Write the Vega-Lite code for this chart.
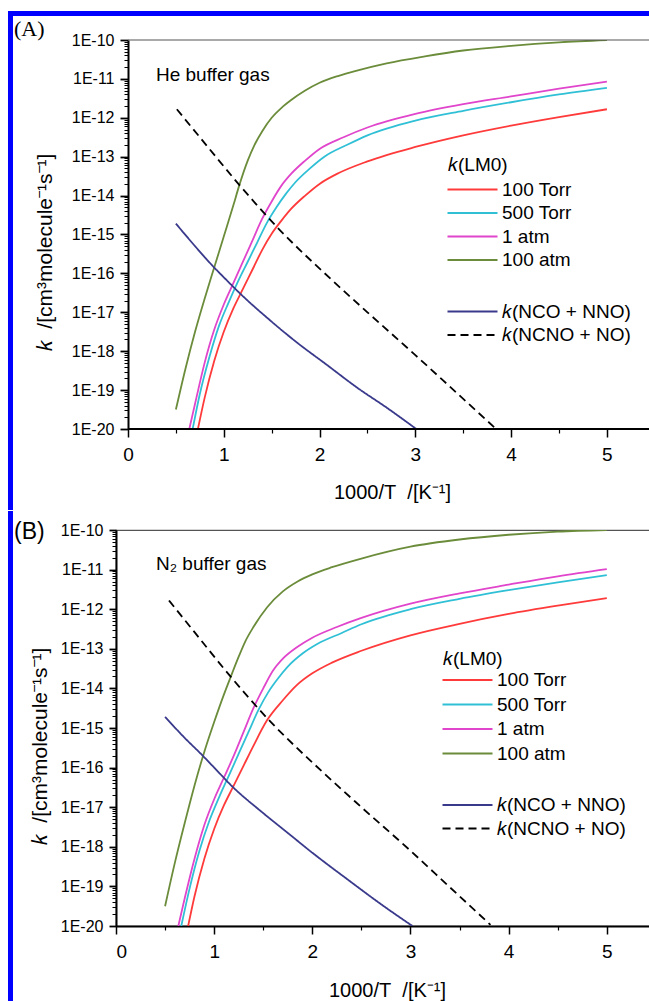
{
  "$schema": "https://vega.github.io/schema/vega-lite/v6.json",
  "padding": {"left": 7, "top": 10, "right": 0, "bottom": 0},
  "background": "white",
  "spacing": 0,
  "config": {
    "font": "Liberation Sans",
    "view": {"stroke": "#555555", "strokeWidth": 1.2},
    "axis": {"domainColor": "#000000", "tickColor": "#000000", "labelColor": "#000000", "titleColor": "#000000", "grid": false, "titleFontWeight": "normal", "labelFont": "Liberation Sans", "titleFont": "Liberation Sans"},
    "legend": {"labelColor": "#000000", "titleColor": "#000000", "labelFont": "Liberation Sans", "titleFont": "Liberation Sans"}
  },
  "datasets": {
    "A_lm0": [
      {"x":0.73,"k":1e-20,"s":"100 Torr"},{"x":0.8,"k":6.31e-20,"s":"100 Torr"},{"x":0.9,"k":5.623e-19,"s":"100 Torr"},{"x":1.0,"k":3.162e-18,"s":"100 Torr"},{"x":1.1,"k":1.259e-17,"s":"100 Torr"},{"x":1.2,"k":3.981e-17,"s":"100 Torr"},{"x":1.3,"k":1.259e-16,"s":"100 Torr"},{"x":1.4,"k":3.981e-16,"s":"100 Torr"},{"x":1.5,"k":1.047e-15,"s":"100 Torr"},{"x":1.6,"k":2.239e-15,"s":"100 Torr"},{"x":1.7,"k":4.467e-15,"s":"100 Torr"},{"x":1.85,"k":1e-14,"s":"100 Torr"},{"x":2.0,"k":1.995e-14,"s":"100 Torr"},{"x":2.2,"k":3.802e-14,"s":"100 Torr"},{"x":2.5,"k":7.586e-14,"s":"100 Torr"},{"x":3.0,"k":1.778e-13,"s":"100 Torr"},{"x":3.5,"k":3.548e-13,"s":"100 Torr"},{"x":4.0,"k":6.31e-13,"s":"100 Torr"},{"x":4.5,"k":1.047e-12,"s":"100 Torr"},{"x":5.0,"k":1.66e-12,"s":"100 Torr"},
      {"x":0.675,"k":1e-20,"s":"500 Torr"},{"x":0.75,"k":7.943e-20,"s":"500 Torr"},{"x":0.85,"k":7.079e-19,"s":"500 Torr"},{"x":0.95,"k":4.467e-18,"s":"500 Torr"},{"x":1.05,"k":1.778e-17,"s":"500 Torr"},{"x":1.15,"k":6.31e-17,"s":"500 Torr"},{"x":1.25,"k":1.995e-16,"s":"500 Torr"},{"x":1.35,"k":6.31e-16,"s":"500 Torr"},{"x":1.45,"k":1.995e-15,"s":"500 Torr"},{"x":1.55,"k":5.012e-15,"s":"500 Torr"},{"x":1.65,"k":1.122e-14,"s":"500 Torr"},{"x":1.75,"k":2.239e-14,"s":"500 Torr"},{"x":1.9,"k":5.012e-14,"s":"500 Torr"},{"x":2.05,"k":1e-13,"s":"500 Torr"},{"x":2.3,"k":2.089e-13,"s":"500 Torr"},{"x":2.5,"k":3.548e-13,"s":"500 Torr"},{"x":3.0,"k":8.511e-13,"s":"500 Torr"},{"x":3.5,"k":1.514e-12,"s":"500 Torr"},{"x":4.0,"k":2.512e-12,"s":"500 Torr"},{"x":4.5,"k":3.981e-12,"s":"500 Torr"},{"x":5.0,"k":5.888e-12,"s":"500 Torr"},
      {"x":0.64,"k":1e-20,"s":"1 atm"},{"x":0.7,"k":4.467e-20,"s":"1 atm"},{"x":0.8,"k":5.012e-19,"s":"1 atm"},{"x":0.9,"k":3.548e-18,"s":"1 atm"},{"x":1.0,"k":1.585e-17,"s":"1 atm"},{"x":1.1,"k":5.623e-17,"s":"1 atm"},{"x":1.2,"k":1.995e-16,"s":"1 atm"},{"x":1.3,"k":7.079e-16,"s":"1 atm"},{"x":1.4,"k":2.512e-15,"s":"1 atm"},{"x":1.5,"k":7.079e-15,"s":"1 atm"},{"x":1.6,"k":1.778e-14,"s":"1 atm"},{"x":1.7,"k":3.548e-14,"s":"1 atm"},{"x":1.85,"k":7.943e-14,"s":"1 atm"},{"x":2.0,"k":1.585e-13,"s":"1 atm"},{"x":2.25,"k":3.162e-13,"s":"1 atm"},{"x":2.5,"k":5.623e-13,"s":"1 atm"},{"x":3.0,"k":1.259e-12,"s":"1 atm"},{"x":3.5,"k":2.239e-12,"s":"1 atm"},{"x":4.0,"k":3.548e-12,"s":"1 atm"},{"x":4.5,"k":5.623e-12,"s":"1 atm"},{"x":5.0,"k":8.511e-12,"s":"1 atm"},
      {"x":0.5,"k":3.162e-20,"s":"100 atm"},{"x":0.6,"k":3.548e-19,"s":"100 atm"},{"x":0.7,"k":3.162e-18,"s":"100 atm"},{"x":0.8,"k":2.239e-17,"s":"100 atm"},{"x":0.9,"k":1.413e-16,"s":"100 atm"},{"x":1.0,"k":8.913e-16,"s":"100 atm"},{"x":1.1,"k":5.623e-15,"s":"100 atm"},{"x":1.16,"k":1.778e-14,"s":"100 atm"},{"x":1.25,"k":7.943e-14,"s":"100 atm"},{"x":1.32,"k":1.995e-13,"s":"100 atm"},{"x":1.4,"k":4.467e-13,"s":"100 atm"},{"x":1.5,"k":1e-12,"s":"100 atm"},{"x":1.6,"k":1.778e-12,"s":"100 atm"},{"x":1.7,"k":2.818e-12,"s":"100 atm"},{"x":1.85,"k":5.012e-12,"s":"100 atm"},{"x":2.0,"k":7.943e-12,"s":"100 atm"},{"x":2.2,"k":1.202e-11,"s":"100 atm"},{"x":2.4,"k":1.66e-11,"s":"100 atm"},{"x":2.7,"k":2.512e-11,"s":"100 atm"},{"x":3.1,"k":3.802e-11,"s":"100 atm"},{"x":3.5,"k":5.37e-11,"s":"100 atm"},{"x":4.0,"k":7.079e-11,"s":"100 atm"},{"x":4.5,"k":8.71e-11,"s":"100 atm"},{"x":5.0,"k":1e-10,"s":"100 atm"}
    ],
    "A_oth": [
      {"x":0.5,"k":1.905e-15,"r":"𝑘(NCO + NNO)"},{"x":0.7,"k":5.012e-16,"r":"𝑘(NCO + NNO)"},{"x":0.885,"k":1.549e-16,"r":"𝑘(NCO + NNO)"},{"x":1.0,"k":7.943e-17,"r":"𝑘(NCO + NNO)"},{"x":1.18,"k":2.884e-17,"r":"𝑘(NCO + NNO)"},{"x":1.49,"k":6.026e-18,"r":"𝑘(NCO + NNO)"},{"x":1.75,"k":1.778e-18,"r":"𝑘(NCO + NNO)"},{"x":2.07,"k":4.571e-19,"r":"𝑘(NCO + NNO)"},{"x":2.4,"k":1.122e-19,"r":"𝑘(NCO + NNO)"},{"x":2.7,"k":3.548e-20,"r":"𝑘(NCO + NNO)"},{"x":3.01,"k":1e-20,"r":"𝑘(NCO + NNO)"},
      {"x":0.51,"k":1.66e-12,"r":"𝑘(NCNO + NO)"},{"x":0.8,"k":2.239e-13,"r":"𝑘(NCNO + NO)"},{"x":1.157,"k":1.95e-14,"r":"𝑘(NCNO + NO)"},{"x":1.564,"k":1.479e-15,"r":"𝑘(NCNO + NO)"},{"x":2.12,"k":7.079e-17,"r":"𝑘(NCNO + NO)"},{"x":2.5,"k":1e-17,"r":"𝑘(NCNO + NO)"},{"x":3.0,"k":7.943e-19,"r":"𝑘(NCNO + NO)"},{"x":3.4,"k":1e-19,"r":"𝑘(NCNO + NO)"},{"x":3.83,"k":1.072e-20,"r":"𝑘(NCNO + NO)"}
    ],
    "B_lm0": [
      {"x":0.735,"k":1e-20,"s":"100 Torr"},{"x":0.8,"k":5.623e-20,"s":"100 Torr"},{"x":0.9,"k":5.012e-19,"s":"100 Torr"},{"x":1.0,"k":2.818e-18,"s":"100 Torr"},{"x":1.1,"k":1.122e-17,"s":"100 Torr"},{"x":1.19,"k":3.162e-17,"s":"100 Torr"},{"x":1.3,"k":1.122e-16,"s":"100 Torr"},{"x":1.4,"k":3.548e-16,"s":"100 Torr"},{"x":1.54,"k":1.585e-15,"s":"100 Torr"},{"x":1.7,"k":5.012e-15,"s":"100 Torr"},{"x":1.85,"k":1.259e-14,"s":"100 Torr"},{"x":2.0,"k":2.399e-14,"s":"100 Torr"},{"x":2.2,"k":4.467e-14,"s":"100 Torr"},{"x":2.5,"k":8.913e-14,"s":"100 Torr"},{"x":3.0,"k":2.188e-13,"s":"100 Torr"},{"x":3.5,"k":4.266e-13,"s":"100 Torr"},{"x":4.0,"k":7.586e-13,"s":"100 Torr"},{"x":4.5,"k":1.23e-12,"s":"100 Torr"},{"x":5.0,"k":1.905e-12,"s":"100 Torr"},
      {"x":0.665,"k":1e-20,"s":"500 Torr"},{"x":0.75,"k":8.913e-20,"s":"500 Torr"},{"x":0.85,"k":7.943e-19,"s":"500 Torr"},{"x":0.95,"k":4.467e-18,"s":"500 Torr"},{"x":1.05,"k":1.778e-17,"s":"500 Torr"},{"x":1.15,"k":6.31e-17,"s":"500 Torr"},{"x":1.25,"k":2.239e-16,"s":"500 Torr"},{"x":1.35,"k":7.943e-16,"s":"500 Torr"},{"x":1.45,"k":2.818e-15,"s":"500 Torr"},{"x":1.55,"k":7.943e-15,"s":"500 Torr"},{"x":1.65,"k":1.778e-14,"s":"500 Torr"},{"x":1.75,"k":3.548e-14,"s":"500 Torr"},{"x":1.9,"k":7.586e-14,"s":"500 Torr"},{"x":2.05,"k":1.318e-13,"s":"500 Torr"},{"x":2.3,"k":2.512e-13,"s":"500 Torr"},{"x":2.5,"k":4.169e-13,"s":"500 Torr"},{"x":3.0,"k":1e-12,"s":"500 Torr"},{"x":3.5,"k":1.82e-12,"s":"500 Torr"},{"x":4.0,"k":3.02e-12,"s":"500 Torr"},{"x":4.5,"k":4.786e-12,"s":"500 Torr"},{"x":5.0,"k":7.244e-12,"s":"500 Torr"},
      {"x":0.635,"k":1e-20,"s":"1 atm"},{"x":0.7,"k":5.012e-20,"s":"1 atm"},{"x":0.8,"k":5.012e-19,"s":"1 atm"},{"x":0.9,"k":3.548e-18,"s":"1 atm"},{"x":1.0,"k":1.585e-17,"s":"1 atm"},{"x":1.1,"k":5.623e-17,"s":"1 atm"},{"x":1.2,"k":1.995e-16,"s":"1 atm"},{"x":1.3,"k":7.943e-16,"s":"1 atm"},{"x":1.4,"k":3.162e-15,"s":"1 atm"},{"x":1.5,"k":1e-14,"s":"1 atm"},{"x":1.6,"k":2.818e-14,"s":"1 atm"},{"x":1.7,"k":5.623e-14,"s":"1 atm"},{"x":1.85,"k":1.122e-13,"s":"1 atm"},{"x":2.0,"k":1.905e-13,"s":"1 atm"},{"x":2.25,"k":3.548e-13,"s":"1 atm"},{"x":2.5,"k":6.026e-13,"s":"1 atm"},{"x":3.0,"k":1.38e-12,"s":"1 atm"},{"x":3.5,"k":2.512e-12,"s":"1 atm"},{"x":4.0,"k":4.169e-12,"s":"1 atm"},{"x":4.5,"k":6.761e-12,"s":"1 atm"},{"x":5.0,"k":1.023e-11,"s":"1 atm"},
      {"x":0.5,"k":3.162e-20,"s":"100 atm"},{"x":0.6,"k":3.981e-19,"s":"100 atm"},{"x":0.7,"k":3.981e-18,"s":"100 atm"},{"x":0.8,"k":3.548e-17,"s":"100 atm"},{"x":0.9,"k":2.512e-16,"s":"100 atm"},{"x":1.0,"k":1.413e-15,"s":"100 atm"},{"x":1.1,"k":7.079e-15,"s":"100 atm"},{"x":1.17,"k":1.995e-14,"s":"100 atm"},{"x":1.25,"k":6.31e-14,"s":"100 atm"},{"x":1.32,"k":1.585e-13,"s":"100 atm"},{"x":1.4,"k":3.548e-13,"s":"100 atm"},{"x":1.54,"k":1.122e-12,"s":"100 atm"},{"x":1.7,"k":2.818e-12,"s":"100 atm"},{"x":1.85,"k":5.012e-12,"s":"100 atm"},{"x":2.0,"k":7.586e-12,"s":"100 atm"},{"x":2.2,"k":1.148e-11,"s":"100 atm"},{"x":2.5,"k":1.905e-11,"s":"100 atm"},{"x":3.0,"k":3.802e-11,"s":"100 atm"},{"x":3.5,"k":5.754e-11,"s":"100 atm"},{"x":4.0,"k":7.586e-11,"s":"100 atm"},{"x":4.5,"k":9.12e-11,"s":"100 atm"},{"x":5.0,"k":1e-10,"s":"100 atm"}
    ],
    "B_oth": [
      {"x":0.5,"k":1.905e-15,"r":"𝑘(NCO + NNO)"},{"x":0.7,"k":5.623e-16,"r":"𝑘(NCO + NNO)"},{"x":0.88,"k":2.042e-16,"r":"𝑘(NCO + NNO)"},{"x":1.0,"k":1e-16,"r":"𝑘(NCO + NNO)"},{"x":1.19,"k":3.236e-17,"r":"𝑘(NCO + NNO)"},{"x":1.5,"k":7.079e-18,"r":"𝑘(NCO + NNO)"},{"x":1.75,"k":2.239e-18,"r":"𝑘(NCO + NNO)"},{"x":2.0,"k":7.079e-19,"r":"𝑘(NCO + NNO)"},{"x":2.4,"k":1.259e-19,"r":"𝑘(NCO + NNO)"},{"x":2.7,"k":3.548e-20,"r":"𝑘(NCO + NNO)"},{"x":3.02,"k":1e-20,"r":"𝑘(NCO + NNO)"},
      {"x":0.54,"k":1.66e-12,"r":"𝑘(NCNO + NO)"},{"x":0.8,"k":2.63e-13,"r":"𝑘(NCNO + NO)"},{"x":1.17,"k":1.95e-14,"r":"𝑘(NCNO + NO)"},{"x":1.543,"k":1.738e-15,"r":"𝑘(NCNO + NO)"},{"x":2.1,"k":7.943e-17,"r":"𝑘(NCNO + NO)"},{"x":2.5,"k":1e-17,"r":"𝑘(NCNO + NO)"},{"x":3.0,"k":7.943e-19,"r":"𝑘(NCNO + NO)"},{"x":3.4,"k":9.55e-20,"r":"𝑘(NCNO + NO)"},{"x":3.815,"k":1.072e-20,"r":"𝑘(NCNO + NO)"}
    ]
  },
  "resolve": {"scale": {"color": "independent", "strokeDash": "independent"}},
  "vconcat": [
    {
      "width": 534, "height": 389,
      "view": {"stroke": null},
      "resolve": {"scale": {"color": "independent", "strokeDash": "independent"}, "axis": {"x": "independent", "y": "independent"}},
      "layer": [
        {
          "data": {"name": "A_lm0"},
          "mark": {"type": "line", "strokeWidth": 1.8, "clip": true, "interpolate": "monotone"},
          "encoding": {
            "x": {"field": "x", "type": "quantitative", "scale": {"domain": [-0.1253, 5.45], "nice": false, "zero": false},
              "axis": {"orient": "bottom", "values": [0,1,2,3,4,5], "format": "d", "domain": false, "title": "1000/T\u00a0 /[K⁻¹]", "titleX": 276, "titleY": 69, "titleBaseline": "alphabetic", "tickSize": 8, "tickWidth": 1.5, "labelFontSize": 19, "labelPadding": 8, "titleFontSize": 20}},
            "y": {"field": "k", "type": "quantitative", "scale": {"type": "log", "domain": [1e-20, 1e-10], "nice": false},
              "axis": {"orient": "left", "offset": -12, "values": [1e-20,1e-19,1e-18,1e-17,1e-16,1e-15,1e-14,1e-13,1e-12,1e-11,1e-10], "labelExpr": "'1E' + round(log(datum.value)/LN10)", "title": "𝑘\u00a0 /[cm³molecule⁻¹s⁻¹]", "titleX": -77, "titleY": 212, "titleBaseline": "alphabetic", "titleFontSize": 21, "tickSize": 8, "tickWidth": 1.8, "labelFontSize": 16, "labelPadding": 6, "domainWidth": 2}},
            "color": {"field": "s", "type": "nominal",
              "scale": {"domain": ["100 Torr", "500 Torr", "1 atm", "100 atm"], "range": ["#ff3a3a", "#30c0d6", "#e045cc", "#6b8c3a"]},
              "legend": {"title": "𝑘(LM0)", "orient": "none", "legendX": 332, "legendY": 116, "symbolType": "M-2,0H8", "symbolSize": 100, "symbolStrokeWidth": 2, "labelOffset": 35, "rowPadding": 3.5, "titlePadding": 5, "labelFontSize": 19, "titleFontSize": 19, "titleFontWeight": "normal", "padding": 0}}
          }
        },
        {
          "data": {"name": "A_oth"},
          "mark": {"type": "line", "strokeWidth": 1.8, "clip": true, "interpolate": "monotone"},
          "encoding": {
            "x": {"field": "x", "type": "quantitative", "scale": {"domain": [-0.1253, 5.45], "nice": false, "zero": false},
              "axis": {"orient": "bottom", "values": [0.5,1.5,2.5,3.5,4.5], "labels": false, "title": null, "domain": false, "tickSize": 4, "tickWidth": 1.2}},
            "y": {"field": "k", "type": "quantitative", "scale": {"type": "log", "domain": [1e-20, 1e-10], "nice": false},
              "axis": {"orient": "left", "offset": -12, "values": [2e-20,3e-20,4e-20,5e-20,6e-20,7e-20,8e-20,9e-20,2e-19,3e-19,4e-19,5e-19,6e-19,7e-19,8e-19,9e-19,2e-18,3e-18,4e-18,5e-18,6e-18,7e-18,8e-18,9e-18,2e-17,3e-17,4e-17,5e-17,6e-17,7e-17,8e-17,9e-17,2e-16,3e-16,4e-16,5e-16,6e-16,7e-16,8e-16,9e-16,2e-15,3e-15,4e-15,5e-15,6e-15,7e-15,8e-15,9e-15,2e-14,3e-14,4e-14,5e-14,6e-14,7e-14,8e-14,9e-14,2e-13,3e-13,4e-13,5e-13,6e-13,7e-13,8e-13,9e-13,2e-12,3e-12,4e-12,5e-12,6e-12,7e-12,8e-12,9e-12,2e-11,3e-11,4e-11,5e-11,6e-11,7e-11,8e-11,9e-11], "labels": false, "title": null, "domain": false, "tickSize": 4, "tickWidth": 1}},
            "color": {"field": "r", "type": "nominal",
              "scale": {"domain": ["𝑘(NCO + NNO)", "𝑘(NCNO + NO)"], "range": ["#3a3a8c", "#000000"]},
              "legend": {"title": null, "orient": "none", "legendX": 332, "legendY": 262, "symbolType": "M-2,0H8", "symbolSize": 100, "symbolStrokeWidth": 2, "labelOffset": 35, "rowPadding": 3.5, "labelFontSize": 19, "padding": 0}},
            "strokeDash": {"field": "r", "type": "nominal",
              "scale": {"domain": ["𝑘(NCO + NNO)", "𝑘(NCNO + NO)"], "range": [[1, 0], [8, 5]]},
              "legend": {"title": null, "orient": "none", "legendX": 332, "legendY": 262, "symbolType": "M-2,0H8", "symbolSize": 100, "symbolStrokeWidth": 2, "labelOffset": 35, "rowPadding": 3.5, "labelFontSize": 19, "padding": 0}}
          }
        },
        {
          "data": {"values": [{}]},
          "mark": {"type": "rule", "color": "#555555", "strokeWidth": 1.2},
          "encoding": {
            "x": {"datum": 0, "type": "quantitative", "axis": null},
            "x2": {"datum": 5.45},
            "y": {"datum": 1e-10, "type": "quantitative", "axis": null}
          }
        },
        {
          "data": {"values": [{}]},
          "mark": {"type": "rule", "color": "#000000", "strokeWidth": 2},
          "encoding": {
            "x": {"datum": 0, "type": "quantitative", "axis": null},
            "x2": {"datum": 5.45},
            "y": {"datum": 1e-20, "type": "quantitative", "axis": null}
          }
        },
        {
          "data": {"values": [{}]},
          "mark": {"type": "rect", "color": "#0000ff"},
          "encoding": {
            "x": {"datum": -1.2529, "type": "quantitative", "axis": null},
            "x2": {"datum": 5.45},
            "y": {"datum": 5.567e-10, "type": "quantitative", "axis": null},
            "y2": {"datum": 4.14e-10}
          }
        },
        {
          "data": {"values": [{}]},
          "mark": {"type": "rect", "color": "#0000ff"},
          "encoding": {
            "x": {"datum": -1.2529, "type": "quantitative", "axis": null},
            "x2": {"datum": -1.2007},
            "y": {"datum": 5.567e-10, "type": "quantitative", "axis": null},
            "y2": {"datum": 8.28e-23}
          }
        },
        {
          "data": {"values": [{}]},
          "mark": {"type": "text", "font": "Liberation Serif", "fontSize": 22, "align": "left", "baseline": "middle", "color": "#000000"},
          "encoding": {
            "x": {"datum": -1.19, "type": "quantitative", "axis": null},
            "y": {"datum": 1.918e-10, "type": "quantitative", "axis": null},
            "text": {"value": "(A)"}
          }
        },
        {
          "data": {"values": [{}]},
          "mark": {"type": "text", "fontSize": 19, "align": "left", "baseline": "alphabetic", "color": "#000000"},
          "encoding": {
            "x": {"datum": 0.292, "type": "quantitative", "axis": null},
            "y": {"datum": 8.83e-12, "type": "quantitative", "axis": null},
            "text": {"value": "He buffer gas"}
          }
        }
      ]
    },
    {
      "width": 534, "height": 396,
      "resolve": {"scale": {"color": "independent", "strokeDash": "independent"}, "axis": {"x": "independent", "y": "independent"}},
      "layer": [
        {
          "data": {"name": "B_lm0"},
          "mark": {"type": "line", "strokeWidth": 1.8, "clip": true, "interpolate": "monotone"},
          "encoding": {
            "x": {"field": "x", "type": "quantitative", "scale": {"domain": [0, 5.44], "nice": false, "zero": false},
              "axis": {"orient": "bottom", "values": [0,1,2,3,4,5], "format": "d", "title": "1000/T\u00a0 /[K⁻¹]", "titleX": 271, "titleY": 70, "titleBaseline": "alphabetic", "tickSize": 8, "tickWidth": 1.5, "labelFontSize": 19, "labelPadding": 8, "titleFontSize": 20, "domainWidth": 2}},
            "y": {"field": "k", "type": "quantitative", "scale": {"type": "log", "domain": [1e-20, 1e-10], "nice": false},
              "axis": {"orient": "left", "values": [1e-20,1e-19,1e-18,1e-17,1e-16,1e-15,1e-14,1e-13,1e-12,1e-11,1e-10], "labelExpr": "'1E' + round(log(datum.value)/LN10)", "title": "𝑘\u00a0 /[cm³molecule⁻¹s⁻¹]", "titleX": -70, "titleY": 216, "titleBaseline": "alphabetic", "titleFontSize": 21, "tickSize": 7, "tickWidth": 1.8, "labelFontSize": 16, "labelPadding": 6, "domainWidth": 2}},
            "color": {"field": "s", "type": "nominal",
              "scale": {"domain": ["100 Torr", "500 Torr", "1 atm", "100 atm"], "range": ["#ff3a3a", "#30c0d6", "#e045cc", "#6b8c3a"]},
              "legend": {"title": "𝑘(LM0)", "orient": "none", "legendX": 327, "legendY": 119.5, "symbolType": "M-2,0H8", "symbolSize": 100, "symbolStrokeWidth": 2, "labelOffset": 35, "rowPadding": 4.5, "titlePadding": 2, "labelFontSize": 19, "titleFontSize": 19, "titleFontWeight": "normal", "padding": 0}}
          }
        },
        {
          "data": {"name": "B_oth"},
          "mark": {"type": "line", "strokeWidth": 1.8, "clip": true, "interpolate": "monotone"},
          "encoding": {
            "x": {"field": "x", "type": "quantitative", "scale": {"domain": [0, 5.44], "nice": false, "zero": false},
              "axis": {"orient": "bottom", "values": [0.5,1.5,2.5,3.5,4.5], "labels": false, "title": null, "domain": false, "tickSize": 4, "tickWidth": 1.2}},
            "y": {"field": "k", "type": "quantitative", "scale": {"type": "log", "domain": [1e-20, 1e-10], "nice": false},
              "axis": {"orient": "left", "values": [2e-20,3e-20,4e-20,5e-20,6e-20,7e-20,8e-20,9e-20,2e-19,3e-19,4e-19,5e-19,6e-19,7e-19,8e-19,9e-19,2e-18,3e-18,4e-18,5e-18,6e-18,7e-18,8e-18,9e-18,2e-17,3e-17,4e-17,5e-17,6e-17,7e-17,8e-17,9e-17,2e-16,3e-16,4e-16,5e-16,6e-16,7e-16,8e-16,9e-16,2e-15,3e-15,4e-15,5e-15,6e-15,7e-15,8e-15,9e-15,2e-14,3e-14,4e-14,5e-14,6e-14,7e-14,8e-14,9e-14,2e-13,3e-13,4e-13,5e-13,6e-13,7e-13,8e-13,9e-13,2e-12,3e-12,4e-12,5e-12,6e-12,7e-12,8e-12,9e-12,2e-11,3e-11,4e-11,5e-11,6e-11,7e-11,8e-11,9e-11], "labels": false, "title": null, "domain": false, "tickSize": 4, "tickWidth": 1}},
            "color": {"field": "r", "type": "nominal",
              "scale": {"domain": ["𝑘(NCO + NNO)", "𝑘(NCNO + NO)"], "range": ["#3a3a8c", "#000000"]},
              "legend": {"title": null, "orient": "none", "legendX": 327, "legendY": 265.5, "symbolType": "M-2,0H8", "symbolSize": 100, "symbolStrokeWidth": 2, "labelOffset": 35, "rowPadding": 3.5, "labelFontSize": 19, "padding": 0}},
            "strokeDash": {"field": "r", "type": "nominal",
              "scale": {"domain": ["𝑘(NCO + NNO)", "𝑘(NCNO + NO)"], "range": [[1, 0], [8, 5]]},
              "legend": {"title": null, "orient": "none", "legendX": 327, "legendY": 265.5, "symbolType": "M-2,0H8", "symbolSize": 100, "symbolStrokeWidth": 2, "labelOffset": 35, "rowPadding": 3.5, "labelFontSize": 19, "padding": 0}}
          }
        },
        {
          "data": {"values": [{}]},
          "mark": {"type": "rect", "color": "#0000ff"},
          "encoding": {
            "x": {"datum": -1.1002, "type": "quantitative", "axis": null},
            "x2": {"datum": -1.0493},
            "y": {"datum": 3.019e-10, "type": "quantitative", "axis": null},
            "y2": {"datum": 1.138e-22}
          }
        },
        {
          "data": {"values": [{}]},
          "mark": {"type": "text", "fontSize": 23, "align": "left", "baseline": "middle", "color": "#000000"},
          "encoding": {
            "x": {"datum": -1.039, "type": "quantitative", "axis": null},
            "y": {"datum": 8.9e-11, "type": "quantitative", "axis": null},
            "text": {"value": "(B)"}
          }
        },
        {
          "data": {"values": [{}]},
          "mark": {"type": "text", "fontSize": 19, "align": "left", "baseline": "alphabetic", "color": "#000000"},
          "encoding": {
            "x": {"datum": 0.407, "type": "quantitative", "axis": null},
            "y": {"datum": 9.6e-12, "type": "quantitative", "axis": null},
            "text": {"value": "N₂ buffer gas"}
          }
        }
      ]
    }
  ]
}
